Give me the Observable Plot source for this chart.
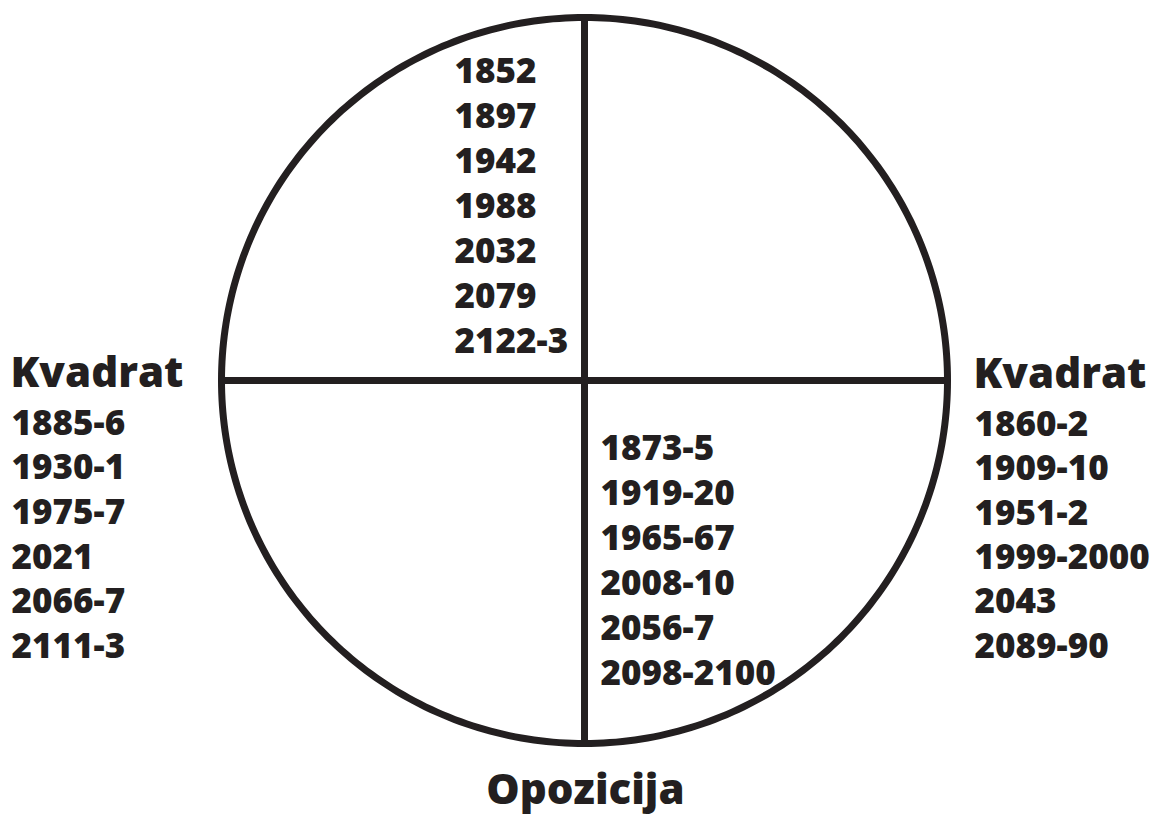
<!DOCTYPE html>
<html>
<head>
<meta charset="utf-8">
<script src="https://cdn.jsdelivr.net/npm/d3@7"></script>
<script src="https://cdn.jsdelivr.net/npm/@observablehq/plot@0.6"></script>
<style>
  html, body { margin: 0; padding: 0; background: #fff; }
  #chart svg { display: block; }
</style>
</head>
<body>
<div id="chart"></div>
<script>
// ---- data ----
const topYears = ["1852", "1897", "1942", "1988", "2032", "2079", "2122-3"];
const oppositionYears = ["1873-5", "1919-20", "1965-67", "2008-10", "2056-7", "2098-2100"];
const leftSquareYears = ["1885-6", "1930-1", "1975-7", "2021", "2066-7", "2111-3"];
const rightSquareYears = ["1860-2", "1909-10", "1951-2", "1999-2000", "2043", "2089-90"];
const squareLabel = "Kvadrat";
const oppositionLabel = "Opozicija";

// ---- layout (pixels) ----
const W = 1158, H = 816;
const CX = 584, CY = 380, R = 363;
const ink = "#231f20";
const font = "'Open Sans', 'DejaVu Sans', sans-serif";
const step = 45;

// pixel -> unit conversion (circle radius = 1 unit)
const ux = px => (px - CX) / R;
const uy = py => (CY - py) / R;

function column(labels, xPx, yPx0, stepPx) {
  return labels.map((label, i) => ({label, x: ux(xPx), y: uy(yPx0 + i * stepPx)}));
}

const topCol = column(topYears, 454, 71, step);
const oppCol = column(oppositionYears, 600, 448, step);
const leftCol = column(leftSquareYears, 11, 423, 44.6);
const rightCol = column(rightSquareYears, 974, 424, 44.4);
const sideHeaders = [
  {label: squareLabel, x: ux(10), y: uy(373)},
  {label: squareLabel, x: ux(973), y: uy(374)}
];
const bottomHeader = [{label: oppositionLabel, x: ux(585), y: uy(790.5)}];

const angles = d3.range(0, 361, 1).map(a => ({a}));

const yearText = (data) => Plot.text(data, {
  x: "x", y: "y", text: "label", textAnchor: "start",
  fontSize: 35, fontWeight: 800, fontFamily: font, fill: ink
});

const plot = Plot.plot({
  width: W, height: H,
  margin: 0,
  x: {domain: [ux(0), ux(W)], range: [0, W], axis: null},
  y: {domain: [uy(H), uy(0)], range: [H, 0], axis: null},
  marks: [
    Plot.line(angles, {
      x: d => Math.cos(d.a * Math.PI / 180),
      y: d => Math.sin(d.a * Math.PI / 180),
      stroke: ink, strokeWidth: 7, curve: "linear-closed"
    }),
    Plot.ruleX([0], {y1: -1, y2: 1, stroke: ink, strokeWidth: 7}),
    Plot.ruleY([0], {x1: -1, x2: 1, stroke: ink, strokeWidth: 7}),
    yearText(topCol),
    yearText(oppCol),
    yearText(leftCol),
    yearText(rightCol),
    Plot.text(sideHeaders, {
      x: "x", y: "y", text: "label", textAnchor: "start",
      fontSize: 42, fontWeight: 800, fontFamily: font, fill: ink
    }),
    Plot.text(bottomHeader, {
      x: "x", y: "y", text: "label", textAnchor: "middle",
      fontSize: 42, fontWeight: 800, fontFamily: font, fill: ink
    })
  ]
});

document.getElementById("chart").appendChild(plot);
</script>
</body>
</html>
